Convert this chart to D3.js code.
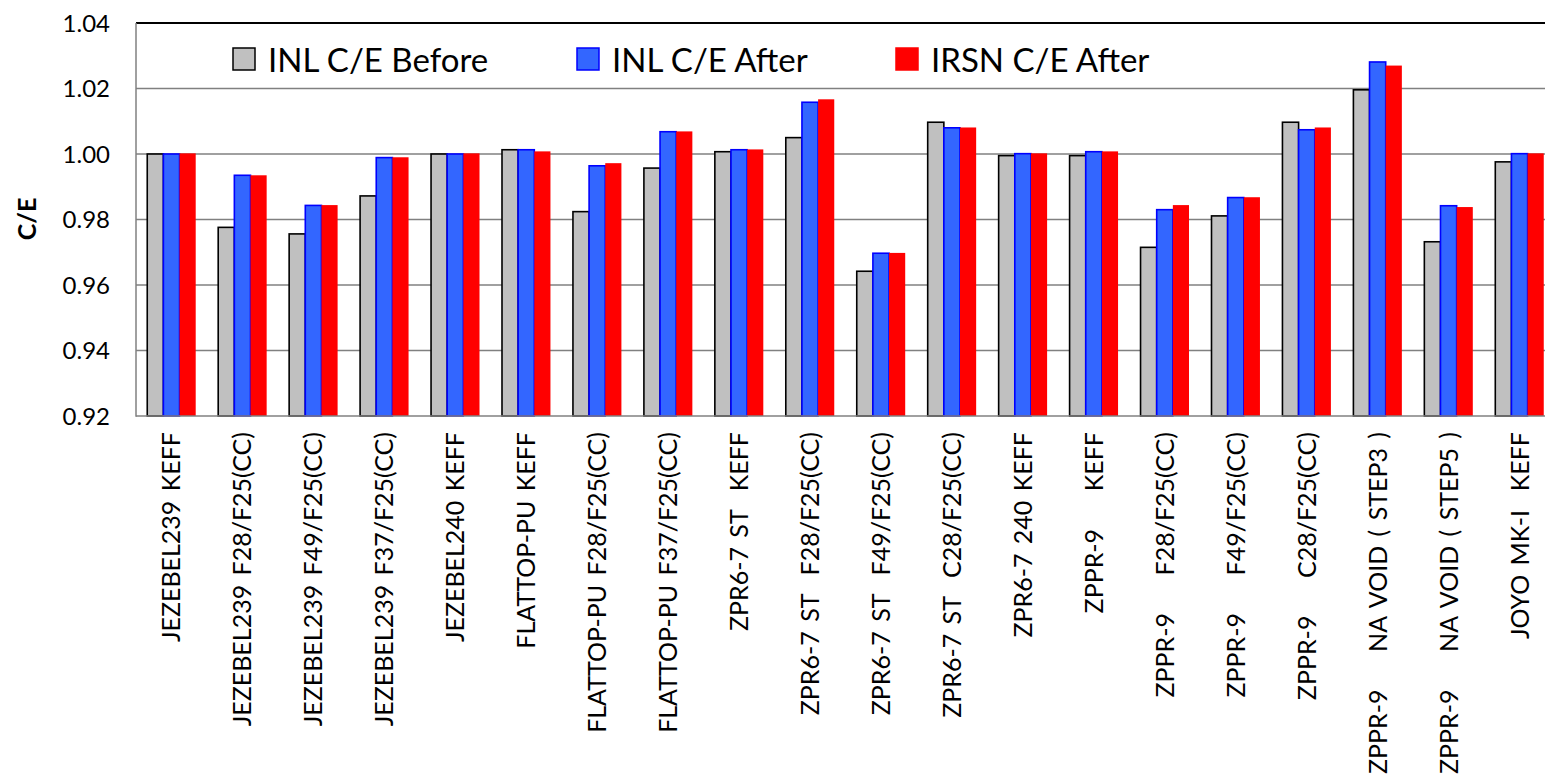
<!DOCTYPE html>
<html>
<head>
<meta charset="utf-8">
<script src="https://cdn.jsdelivr.net/npm/d3@7/dist/d3.min.js"></script>
<style>
  html, body { margin: 0; padding: 0; background: #fff; }
  svg { display: block; }
  text { font-family: Lato, "Open Sans", sans-serif; fill: #000; }
</style>
</head>
<body>
<svg id="chart" width="1545" height="774"></svg>
<script>
const categories = [
  "JEZEBEL239 KEFF",
  "JEZEBEL239 F28/F25(CC)",
  "JEZEBEL239 F49/F25(CC)",
  "JEZEBEL239 F37/F25(CC)",
  "JEZEBEL240 KEFF",
  "FLATTOP-PU KEFF",
  "FLATTOP-PU F28/F25(CC)",
  "FLATTOP-PU F37/F25(CC)",
  "ZPR6-7 ST  KEFF",
  "ZPR6-7 ST  F28/F25(CC)",
  "ZPR6-7 ST  F49/F25(CC)",
  "ZPR6-7 ST  C28/F25(CC)",
  "ZPR6-7 240 KEFF",
  "ZPPR-9    KEFF",
  "ZPPR-9    F28/F25(CC)",
  "ZPPR-9    F49/F25(CC)",
  "ZPPR-9    C28/F25(CC)",
  "ZPPR-9    NA VOID ( STEP3 )",
  "ZPPR-9    NA VOID ( STEP5 )",
  "JOYO MK-I  KEFF"
];
const seriesNames = ["INL C/E Before", "INL C/E After", "IRSN C/E After"];
const inlBefore = [1.0000, 0.9776, 0.9756, 0.9872, 1.0000, 1.0013, 0.9824, 0.9957, 1.0007, 1.0050,
                   0.9642, 1.0097, 0.9995, 0.9995, 0.9715, 0.9811, 1.0097, 1.0196, 0.9732, 0.9976];
const inlAfter  = [1.0000, 0.9935, 0.9843, 0.9989, 1.0000, 1.0013, 0.9964, 1.0068, 1.0013, 1.0158,
                   0.9697, 1.0080, 1.0001, 1.0007, 0.9830, 0.9867, 1.0074, 1.0281, 0.9842, 1.0001];
const irsnAfter = [1.0002, 0.9935, 0.9844, 0.9990, 1.0002, 1.0008, 0.9972, 1.0069, 1.0014, 1.0167,
                   0.9698, 1.0081, 1.0002, 1.0008, 0.9844, 0.9868, 1.0081, 1.0270, 0.9838, 1.0002];
const yTicks = [0.92, 0.94, 0.96, 0.98, 1.00, 1.02, 1.04];
const yLabel = "C/E";

const seriesValues = [inlBefore, inlAfter, irsnAfter];
const fills = ["#C0C0C0", "#3366FF", "#FF0000"];
const strokes = ["#000000", "#0000FF", "none"];

const svg = d3.select("#chart");
const pLeft = 136, pRight = 1555, pTop = 23, pBottom = 416;

const x0 = d3.scaleBand().domain(categories).range([pLeft, pRight])
  .paddingInner(0.317).paddingOuter(0.1585);
const x1 = d3.scaleBand().domain(d3.range(3)).range([0, x0.bandwidth()]).padding(0);
const y = d3.scaleLinear().domain([0.92, 1.04]).range([pBottom, pTop]);

// tick labels
const yAxis = d3.axisLeft(y).tickValues(yTicks).tickSize(0).tickFormat(d3.format(".2f"));
const g = svg.append("g").attr("transform", `translate(${pLeft},0)`).call(yAxis);
g.select(".domain").remove();
g.selectAll("text").attr("x", -26).attr("dy", "0.35em").attr("fill", "#000")
  .style("font-size", "24px").style("font-family", "Lato, sans-serif");

// gridlines
svg.append("g").selectAll("line").data(yTicks.filter(t => t > 0.92 && t < 1.04)).join("line")
  .attr("x1", pLeft).attr("x2", 1545)
  .attr("y1", d => y(d)).attr("y2", d => y(d))
  .attr("stroke", "#808080").attr("stroke-width", 1.5);

// top border
svg.append("line").attr("x1", pLeft).attr("x2", 1545).attr("y1", y(1.04)).attr("y2", y(1.04))
  .attr("stroke", "#000").attr("stroke-width", 2);

// bars
const groups = svg.append("g").selectAll("g").data(categories).join("g")
  .attr("transform", d => `translate(${x0(d)},0)`);
groups.selectAll("rect").data((d, i) => seriesValues.map((s, k) => ({k, v: s[i]}))).join("rect")
  .attr("x", d => x1(d.k))
  .attr("width", x1.bandwidth())
  .attr("y", d => y(d.v))
  .attr("height", d => y(0.92) - y(d.v))
  .attr("fill", d => fills[d.k])
  .attr("stroke", d => strokes[d.k])
  .attr("stroke-width", 1.6);

// axes lines
svg.append("line").attr("x1", pLeft).attr("x2", pLeft).attr("y1", pTop).attr("y2", pBottom + 0.75)
  .attr("stroke", "#808080").attr("stroke-width", 1.5);
svg.append("line").attr("x1", pLeft).attr("x2", 1545).attr("y1", pBottom).attr("y2", pBottom)
  .attr("stroke", "#808080").attr("stroke-width", 1.5);

// x labels
svg.append("g").selectAll("text").data(categories).join("text")
  .attr("transform", d => `translate(${x0(d) + x0.bandwidth() / 2},432) rotate(-90)`)
  .attr("text-anchor", "end")
  .attr("dy", "0.36em")
  .attr("xml:space", "preserve")
  .style("white-space", "pre")
  .style("word-spacing", "3px")
  .style("font-size", "25px")
  .text(d => d);

// y label
svg.append("text")
  .attr("transform", `translate(27,219) rotate(-90)`)
  .attr("text-anchor", "middle").attr("dy", "0.36em")
  .style("font-size", "25px").style("font-weight", "bold")
  .text(yLabel);

// legend
const legendX = [233, 577, 896];
const leg = svg.append("g").selectAll("g").data(seriesNames).join("g")
  .attr("transform", (d, i) => `translate(${legendX[i]},48)`);
leg.append("rect").attr("width", 22).attr("height", 22)
  .attr("fill", (d, i) => fills[i])
  .attr("stroke", (d, i) => i === 0 ? "#000" : (i === 1 ? "#0000FF" : "#FF0000"))
  .attr("stroke-width", 1.5);
leg.append("text").attr("x", 35).attr("y", 23.5)
  .style("font-size", "33px")
  .text(d => d);
</script>
</body>
</html>
